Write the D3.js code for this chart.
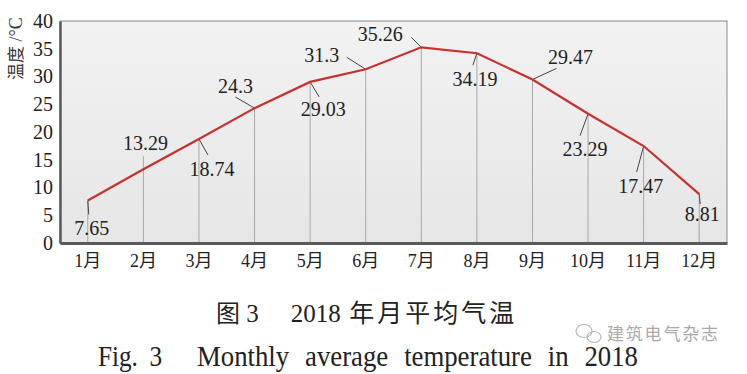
<!DOCTYPE html>
<html>
<head>
<meta charset="utf-8">
<script src="https://cdn.jsdelivr.net/npm/d3@7"></script>
<style>
	body { margin: 0; background: #fff; }
	svg { display: block; }
</style>
</head>
<body>
<svg id="chart" width="747" height="374"></svg>
<script>
// data
var months = ["1月", "2月", "3月", "4月", "5月", "6月", "7月", "8月", "9月", "10月", "11月", "12月"];
var temps = [7.65, 13.29, 18.74, 24.3, 29.03, 31.3, 35.26, 34.19, 29.47, 23.29, 17.47, 8.81];
var yTicks = [0, 5, 10, 15, 20, 25, 30, 35, 40];
var yTitle = ["温度", " /°C"];
var captionCn = ["图", " 3", "2018", " 年月平均气温"];
var captionEn = ["Fig. 3", "Monthly average temperature in 2018"];
var watermark = "建筑电气杂志";

// layout only: label centre and leader-line end, as px offsets from each point
var labelOffsets = [
	[4, 27], [2, -26], [13, 30], [-19, -22], [13, 27], [-44, -14],
	[-41, -13], [-2, 26], [38, -22], [-3, 35], [-3, 40], [3, 20]
];
var leaderOffsets = [
	[1, 14], null, [9, 16], [-19, -11], [9, 15], [-19, -12],
	[-10, -10], [-4, 12], [24, -11], [-8, 22], [-7, 26], [1, 10]
];

var svg = d3.select("#chart"),
	margin = {left: 60, top: 21, right: 20, bottom: 131},
	width = 747 - margin.left - margin.right,
	height = 374 - margin.top - margin.bottom;

var serif = "'Liberation Serif', 'DejaVu Serif', serif",
	cjk = "'Noto Sans CJK SC', sans-serif";

var defs = svg.append("defs");
var grad = defs.append("linearGradient")
	.attr("id", "bg").attr("x1", 0).attr("y1", 0).attr("x2", 0).attr("y2", 1);
grad.append("stop").attr("offset", "0%").attr("stop-color", "#f3f2f2");
grad.append("stop").attr("offset", "100%").attr("stop-color", "#e7e6e6");

var x = d3.scaleBand().domain(months).range([0, width]).padding(0);
var y = d3.scaleLinear().domain([0, 40]).range([height, 0]);
function cx(d, i) { return x(months[i]) + x.bandwidth()/2; }

var g = svg.append("g").attr("transform", "translate(" + margin.left + "," + margin.top + ")");

g.append("rect")
	.attr("width", width).attr("height", height)
	.attr("fill", "url(#bg)")
	.attr("stroke", "#8a8a8a").attr("stroke-width", 1);

// drop lines: from the point (or the label above it, for Feb) down to the axis
g.selectAll(".drop")
	.data(temps)
	.enter().append("line")
		.attr("class", "drop")
		.attr("x1", cx).attr("x2", cx)
		.attr("y1", function(d, i) {
			return leaderOffsets[i] === null ? y(d) + labelOffsets[i][1] + 13 : y(d);
		})
		.attr("y2", height)
		.attr("stroke", "#a8a8a8").attr("stroke-width", 1);

// leader lines
g.selectAll(".leader")
	.data(temps.map(function(d, i) { return [d, i]; }).filter(function(e) { return leaderOffsets[e[1]] !== null; }))
	.enter().append("line")
		.attr("class", "leader")
		.attr("x1", function(e) { return cx(e[0], e[1]); })
		.attr("y1", function(e) { return y(e[0]); })
		.attr("x2", function(e) { return cx(e[0], e[1]) + leaderOffsets[e[1]][0]; })
		.attr("y2", function(e) { return y(e[0]) + leaderOffsets[e[1]][1]; })
		.attr("stroke", "#444").attr("stroke-width", 1);

// axes
var yAxis = g.append("g")
	.call(d3.axisLeft(y).tickValues(yTicks).tickSize(0).tickPadding(7));
yAxis.select(".domain").attr("stroke", "#5a5a5a").attr("stroke-width", 2.5);
yAxis.selectAll("text")
	.style("font-family", serif).style("font-size", "20px").attr("fill", "#222");

var xAxis = g.append("g")
	.attr("transform", "translate(0," + height + ")")
	.call(d3.axisBottom(x).tickSize(0).tickPadding(11));
xAxis.select(".domain").attr("stroke", "#5a5a5a").attr("stroke-width", 3);
xAxis.selectAll("text")
	.style("font-family", serif + ", " + cjk).style("font-size", "18px").attr("fill", "#222");

// the line
var line = d3.line()
	.x(function(d, i) { return cx(d, i); })
	.y(function(d) { return y(d); });
g.append("path")
	.datum(temps)
	.attr("d", line)
	.attr("fill", "none")
	.attr("stroke", "#c8302e").attr("stroke-width", 2.2);

// value labels
g.selectAll(".vlabel")
	.data(temps)
	.enter().append("text")
		.attr("class", "vlabel")
		.attr("x", function(d, i) { return cx(d, i) + labelOffsets[i][0]; })
		.attr("y", function(d, i) { return y(d) + labelOffsets[i][1]; })
		.attr("dy", "0.35em")
		.attr("text-anchor", "middle")
		.style("font-family", serif).style("font-size", "20px").attr("fill", "#222")
		.text(function(d) { return d; });

// y title
var yt = svg.append("text")
	.attr("transform", "translate(16,80) rotate(-90)")
	.attr("text-anchor", "start")
	.attr("dy", "0.35em")
	.attr("fill", "#333");
yt.append("tspan").style("font-family", cjk).style("font-size", "17px").text(yTitle[0]);
yt.append("tspan").style("font-family", serif).style("font-size", "18px").text(yTitle[1]);

// captions
var cn = svg.append("text")
	.attr("x", 216).attr("y", 322)
	.attr("fill", "#222");
cn.append("tspan").style("font-family", cjk).style("font-size", "24px").text(captionCn[0]);
cn.append("tspan").style("font-family", serif).style("font-size", "25px").text(captionCn[1]);
cn.append("tspan").attr("dx", 32).style("font-family", serif).style("font-size", "25px").text(captionCn[2]);
cn.append("tspan").style("font-family", cjk).style("font-size", "25px").attr("letter-spacing", "3px").text(captionCn[3]);

svg.append("text")
	.attr("x", 98).attr("y", 366)
	.attr("textLength", 64)
	.attr("lengthAdjust", "spacingAndGlyphs")
	.attr("word-spacing", "6px")
	.style("font-family", serif).style("font-size", "29px").attr("fill", "#222")
	.text(captionEn[0]);
svg.append("text")
	.attr("x", 197).attr("y", 366)
	.attr("textLength", 441)
	.attr("lengthAdjust", "spacingAndGlyphs")
	.attr("word-spacing", "10px")
	.style("font-family", serif).style("font-size", "29px").attr("fill", "#222")
	.text(captionEn[1]);

// watermark
svg.append("text")
	.attr("x", 607).attr("y", 340)
	.attr("textLength", 111)
	.style("font-family", cjk).style("font-size", "17px").attr("fill", "#9a9a9a").attr("opacity", 0.85)
	.text(watermark);
var wm = svg.append("g").attr("fill", "none").attr("stroke", "#b5b5b5").attr("stroke-width", 1.2);
wm.append("ellipse").attr("cx", 584).attr("cy", 331).attr("rx", 8).attr("ry", 6.5);
wm.append("ellipse").attr("cx", 594).attr("cy", 337).attr("rx", 7).attr("ry", 5.5);
</script>
</body>
</html>
